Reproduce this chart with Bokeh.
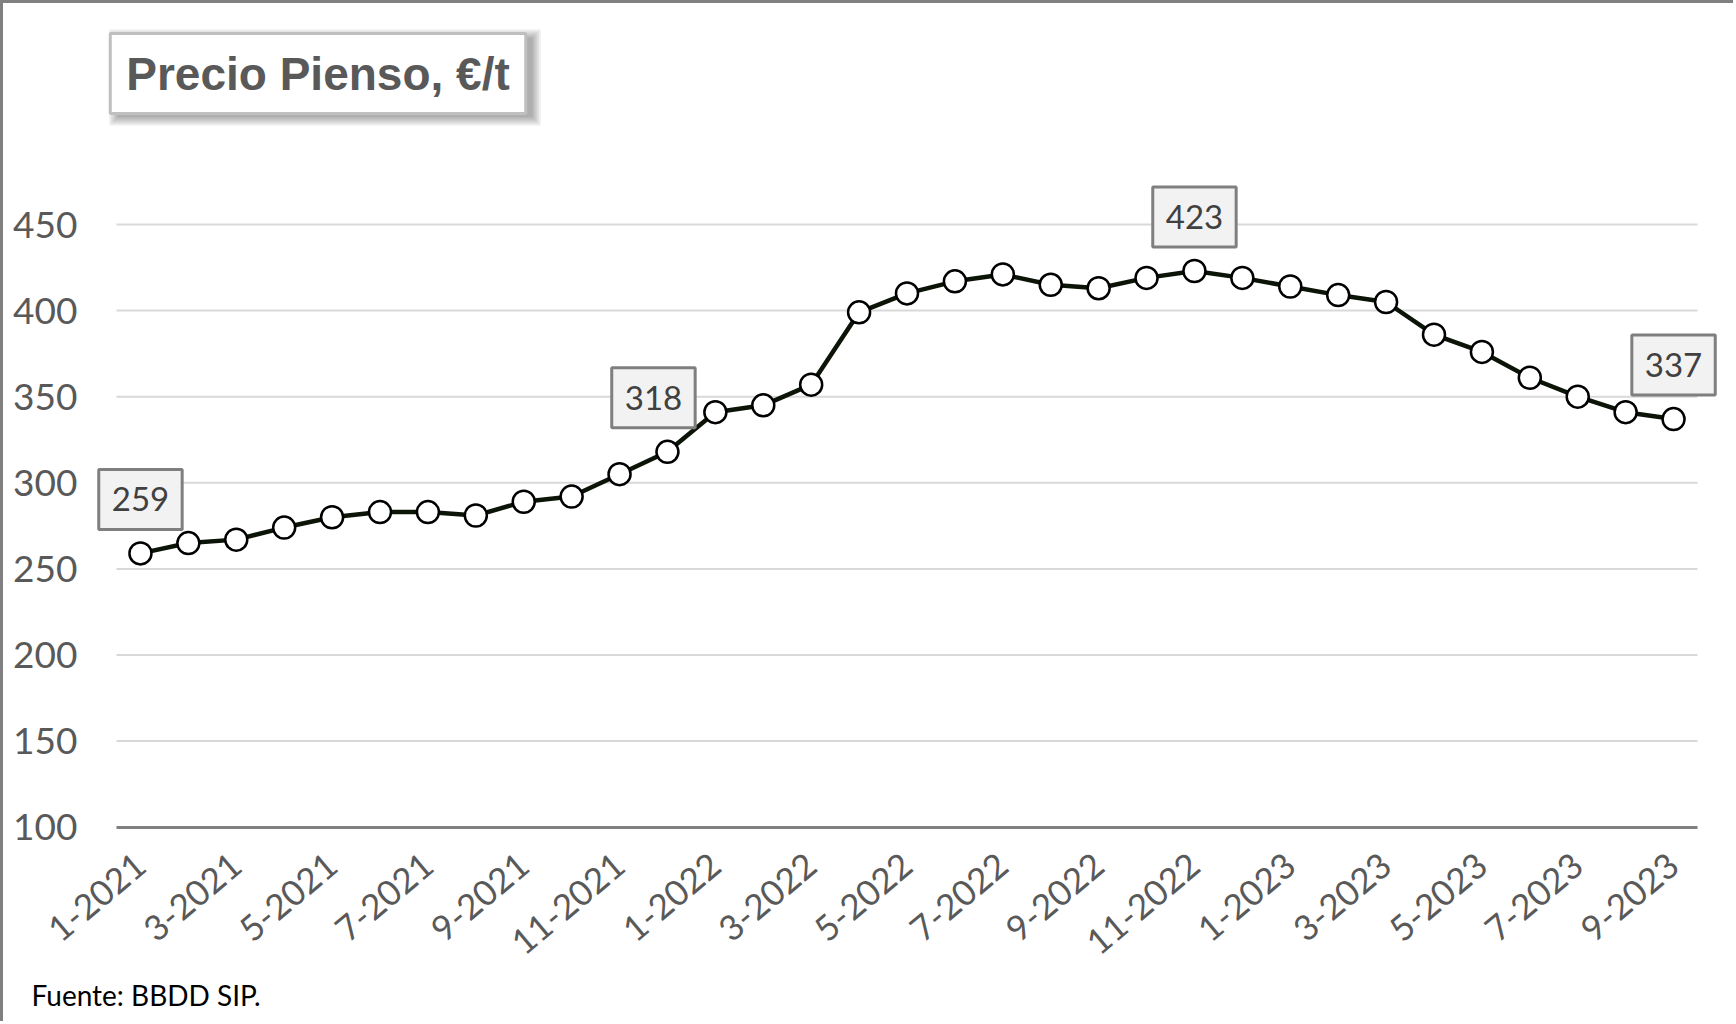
from bokeh.plotting import figure
from bokeh.models import Label, FixedTicker, Range1d
from bokeh.embed import file_html
from bokeh.resources import INLINE

# ---------------- data ----------------
months = ["1-2021", "2-2021", "3-2021", "4-2021", "5-2021", "6-2021", "7-2021", "8-2021",
          "9-2021", "10-2021", "11-2021", "12-2021",
          "1-2022", "2-2022", "3-2022", "4-2022", "5-2022", "6-2022", "7-2022", "8-2022",
          "9-2022", "10-2022", "11-2022", "12-2022",
          "1-2023", "2-2023", "3-2023", "4-2023", "5-2023", "6-2023", "7-2023", "8-2023",
          "9-2023"]
prices = [259, 265, 267, 274, 280, 283, 283, 281, 289, 292, 305, 318,
          341, 345, 357, 399, 410, 417, 421, 415, 413, 419, 423, 419,
          414, 409, 405, 386, 376, 361, 350, 341, 337]
labelled_points = [0, 11, 22, 32]
y_ticks = [100, 150, 200, 250, 300, 350, 400, 450]
title_text = "Precio Pienso, €/t"
source_text = "Fuente: BBDD SIP."

# ---------------- layout (canvas pixels) ----------------
W, H = 1733, 1021
n = len(months)
xs = list(range(n))
PX_LEFT, PX_RIGHT = 113.0, 1694.0        # plot area edges
PY_TOP_TICK, PY_BASE = 221.0, 823.7      # pixel rows of top tick and of the base
px_x = (PX_RIGHT - PX_LEFT) / n
px_y = (PY_BASE - PY_TOP_TICK) / (y_ticks[-1] - y_ticks[0])
x_start = -0.5 - PX_LEFT / px_x
x_end = n - 0.5 + (W - PX_RIGHT) / px_x
y_end = y_ticks[-1] + PY_TOP_TICK / px_y
y_start = y_ticks[0] - (H - PY_BASE) / px_y


def dx(px):
    return x_start + px / px_x


def dy(py):
    return y_end - py / px_y


p = figure(width=W, height=H, output_backend="svg", toolbar_location=None,
           x_range=Range1d(x_start, x_end), y_range=Range1d(y_start, y_end),
           min_border=0, min_border_left=0, min_border_right=0,
           min_border_top=0, min_border_bottom=0)
p.styles = {"border-top": "3px solid #808080", "border-left": "3px solid #808080"}
p.outline_line_color = None
p.background_fill_color = "white"
p.border_fill_color = "white"
p.xgrid.visible = False
p.ygrid.visible = False

# gridlines
p.segment(x0=[-0.5] * (len(y_ticks) - 1), y0=y_ticks[1:],
          x1=[n - 0.5] * (len(y_ticks) - 1), y1=y_ticks[1:],
          line_color="#d9d9d9", line_width=2)

# axes
xa = p.xaxis[0]
xa.fixed_location = y_ticks[0]
xa.bounds = (-0.5, n - 0.5)
xa.ticker = FixedTicker(ticks=xs[::2])
xa.major_label_overrides = {i: months[i] for i in xs}
xa.major_label_orientation = 0.70
xa.major_label_text_font = "Lato"
xa.major_label_text_font_size = "35px"
xa.major_label_text_color = "#595959"
xa.major_label_standoff = 27
xa.major_tick_line_color = None
xa.minor_tick_line_color = None
xa.axis_line_color = "#808080"
xa.axis_line_width = 3

ya = p.yaxis[0]
ya.fixed_location = -0.5
ya.bounds = (y_ticks[0], y_ticks[-1])
ya.ticker = FixedTicker(ticks=y_ticks)
ya.major_label_text_font = "Lato"
ya.major_label_text_font_size = "37px"
ya.major_label_text_color = "#595959"
ya.major_label_standoff = 33
ya.major_tick_line_color = None
ya.minor_tick_line_color = None
ya.axis_line_color = None

# series
p.line(xs, prices, line_color="#0b1407", line_width=4.5)
p.scatter(xs, prices, size=22, fill_color="white", line_color="black", line_width=2.5)

# data labels
for i in labelled_points:
    p.add_layout(Label(x=i, y=prices[i], text=str(prices[i]), y_offset=54,
                       x_offset=(-14 if i == 11 else 0),
                       text_align="center", text_baseline="middle",
                       text_font="Lato", text_font_size="33px", text_color="#404040",
                       background_fill_color="#f2f2f2", border_line_color="#7f7f7f",
                       border_line_width=3,
                       padding=dict(left=13, right=13, top=18, bottom=18)))

# title box with soft shadow
tx, ty = dx(314.5), dy(70)
for k in range(5):
    p.add_layout(Label(x=tx, y=ty, text=title_text, x_offset=7, y_offset=-4,
                       text_align="center", text_baseline="middle",
                       text_font="Liberation Sans", text_font_style="bold",
                       text_font_size="46px", text_color="black", text_alpha=0.07,
                       background_fill_color="black", background_fill_alpha=0.07,
                       padding=dict(left=16 + 2 * k, right=16 + 2 * k,
                                    top=14 + 2 * k, bottom=14 + 2 * k)))
p.add_layout(Label(x=tx, y=ty, text=title_text,
                   text_align="center", text_baseline="middle",
                   text_font="Liberation Sans", text_font_style="bold",
                   text_font_size="46px", text_color="#595959",
                   background_fill_color="white", border_line_color="#bfbfbf",
                   border_line_width=3,
                   padding=dict(left=16, right=16, top=14, bottom=14)))

# source note
p.add_layout(Label(x=dx(28), y=dy(991), text=source_text,
                   text_align="left", text_baseline="alphabetic",
                   text_font="Lato", text_font_size="28px", text_color="black"))

open("out.html", "w").write(file_html(p, INLINE))
